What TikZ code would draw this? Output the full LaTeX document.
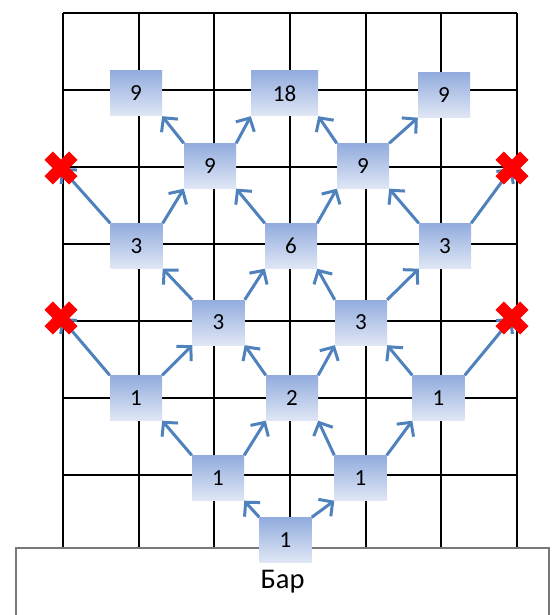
\documentclass[tikz,border=0pt]{standalone}
\usepackage{fontspec}
\setmainfont{Carlito}
\usetikzlibrary{arrows.meta}
\definecolor{boxtop}{RGB}{146,172,222}
\definecolor{boxbot}{RGB}{224,231,245}
\definecolor{arrowblue}{RGB}{79,129,189}
\definecolor{barline}{RGB}{120,120,120}
\tikzset{
  cell/.style={rectangle, inner sep=0pt, minimum width=52pt, minimum height=45pt,
    top color=boxtop, bottom color=boxbot, draw=none,
    font=\fontsize{23}{27}\selectfont, text=black},
  wide/.style={cell, minimum width=67pt},
  gridline/.style={line width=2pt, black},
  move/.style={line width=3pt, arrowblue,
    -{Straight Barb[length=10pt,width=21pt,line width=3pt]}},
  blocked/.style={line width=12pt, red, line cap=butt},
}
\begin{document}
\begin{tikzpicture}[x=1pt, y=-1pt]
\useasboundingbox (0,0) rectangle (554,615);

% board grid
\foreach \i in {0,...,6}
  \draw[gridline] ({63+75.67*\i},12.7) -- ({63+75.67*\i},548);
\foreach \j in {0,...,6}
  \draw[gridline] (63,{12.7+77.05*\j}) -- (517,{12.7+77.05*\j});

% bar counter
\draw[barline, line width=1.2pt, fill=white] (16,548) rectangle (549,640);
\node[font=\fontsize{28.5}{32}\selectfont, anchor=base] (bar) at (282.5,588) {Бар};

% counts
\node[cell] (a1) at (285.5,540) {1};
\node[cell] (b1) at (218,478) {1};
\node[cell] (b2) at (360.5,478) {1};
\node[cell] (c1) at (136,398) {1};
\node[cell] (c2) at (292,398) {2};
\node[cell] (c3) at (438.5,398) {1};
\node[cell] (d1) at (218.5,322.5) {3};
\node[cell] (d2) at (361,322.5) {3};
\node[cell] (e1) at (136.5,246) {3};
\node[cell] (e2) at (291,246) {6};
\node[cell] (e3) at (445,246) {3};
\node[cell] (f1) at (210,166) {9};
\node[cell] (f2) at (363,166) {9};
\node[cell] (g1) at (136,93.5) {9};
\node[wide] (g2) at (284.5,93.5) {18};
\node[cell] (g3) at (444,95) {9};

% dead ends
\coordinate (xl1) at (61,318);
\coordinate (xl2) at (61,168);
\coordinate (xr1) at (512,318);
\coordinate (xr2) at (512,168);

% moves
\draw[move] (a1.north west) -- (b1.south east);
\draw[move] (a1.north east) -- (b2.south west);
\draw[move] (b1.north west) -- (c1.south east);
\draw[move] (b1.north east) -- (c2.south west);
\draw[move] (b2.north west) -- (c2.south east);
\draw[move] (b2.north east) -- (c3.south west);
\draw[move] (c1.north west) -- (xl1);
\draw[move] (c1.north east) -- (d1.south west);
\draw[move] (c2.north west) -- (d1.south east);
\draw[move] (c2.north east) -- (d2.south west);
\draw[move] (c3.north west) -- (d2.south east);
\draw[move] (c3.north east) -- (xr1);
\draw[move] (d1.north west) -- (e1.south east);
\draw[move] (d1.north east) -- (e2.south west);
\draw[move] (d2.north west) -- (e2.south east);
\draw[move] (d2.north east) -- (e3.south west);
\draw[move] (e1.north west) -- (xl2);
\draw[move] (e1.north east) -- (f1.south west);
\draw[move] (e2.north west) -- (f1.south east);
\draw[move] (e2.north east) -- (f2.south west);
\draw[move] (e3.north west) -- (f2.south east);
\draw[move] (e3.north east) -- (xr2);
\draw[move] (f1.north west) -- (g1.south east);
\draw[move] (f1.north east) -- (g2.south west);
\draw[move] (f2.north west) -- (g2.south east);
\draw[move] (f2.north east) -- (g3.south west);

% red crosses
\foreach \c in {xl1,xl2,xr1,xr2} {
  \draw[blocked] ([shift={(-12.3,-12.3)}]\c) -- ([shift={(12.3,12.3)}]\c);
  \draw[blocked] ([shift={(-12.3,12.3)}]\c) -- ([shift={(12.3,-12.3)}]\c);
}
\end{tikzpicture}
\end{document}
